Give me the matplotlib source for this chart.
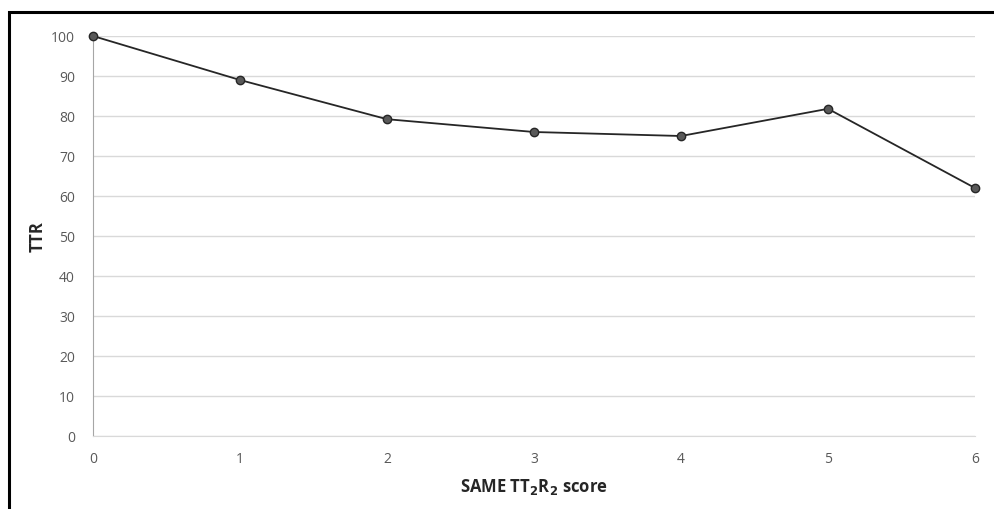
import matplotlib
matplotlib.use("Agg")
import matplotlib.pyplot as plt
from matplotlib.patches import Rectangle

scores = [0, 1, 2, 3, 4, 5, 6]
ttr = [100, 89, 79.2, 76, 75, 81.8, 62]
y_ticks = list(range(0, 101, 10))

plt.rcParams['font.family'] = ['Open Sans', 'DejaVu Sans']

fig = plt.figure(figsize=(9.94, 5.10), dpi=100)
ax = fig.add_axes([93 / 994, 1 - 437 / 510, (975 - 93) / 994, (437 - 37) / 510])

# frame around the picture (only top and left visible)
fig.patches.append(Rectangle((9 / 994, -0.1), 1.2, 1 - 13 / 510 + 0.1, transform=fig.transFigure,
                             fill=False, edgecolor='black', linewidth=2.2))

ax.plot(scores, ttr, color='#262626', linewidth=1.3, marker='o', markersize=6,
        markerfacecolor='#595959', markeredgecolor='#262626', markeredgewidth=1, zorder=3,
        clip_on=False)

ax.set_xlim(0, 6)
ax.set_ylim(0, 100)
ax.set_xticks(scores)
ax.set_yticks(y_ticks)
ax.grid(axis='y', color='#d9d9d9', linewidth=1)
ax.set_axisbelow(True)

for s in ['top', 'right']:
    ax.spines[s].set_visible(False)
ax.spines['bottom'].set_color('#d9d9d9')
ax.spines['left'].set_color('#a6a6a6')
ax.tick_params(axis='both', length=0, labelsize=10, colors='#595959')
ax.tick_params(axis='x', pad=11)
ax.tick_params(axis='y', pad=13)

ax.set_ylabel('TTR', fontsize=12, fontweight='bold', color='#262626', labelpad=3)
ax.set_xlabel('SAME TT$_\\mathbf{2}$R$_\\mathbf{2}$ score', fontsize=12, fontweight='bold',
              color='#262626', labelpad=7)

fig.savefig('out.png', dpi=100)
